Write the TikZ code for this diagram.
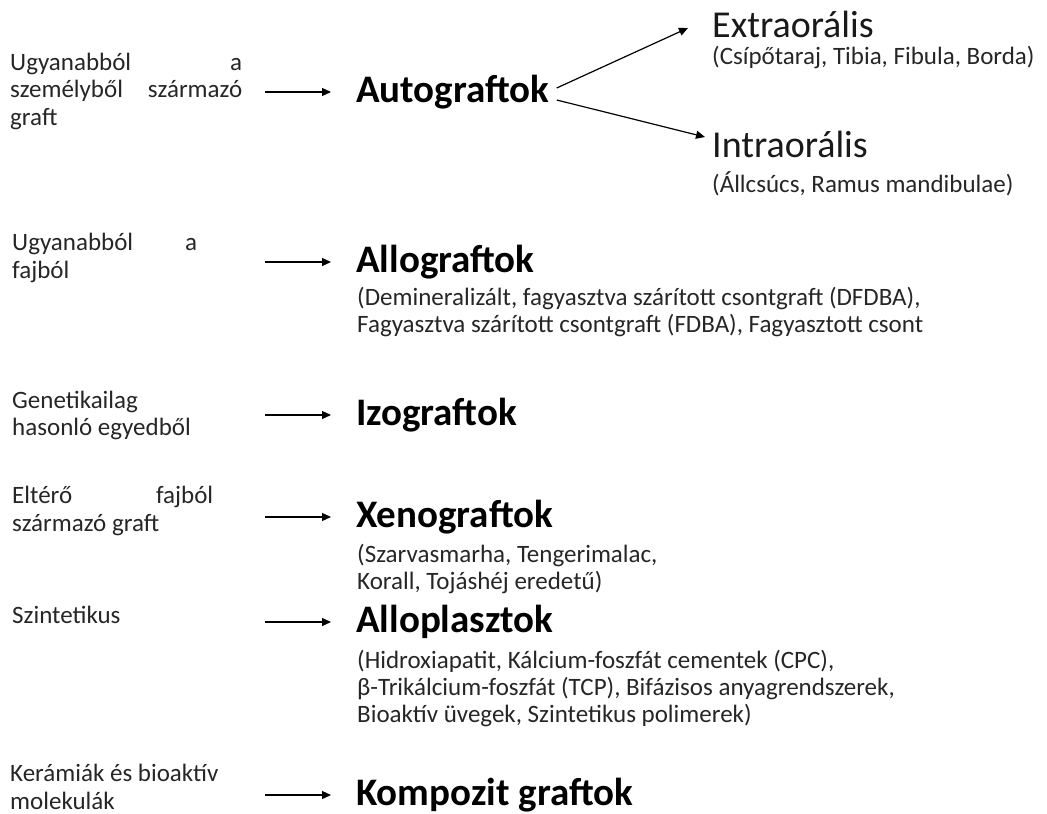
\documentclass[tikz,border=0pt]{standalone}
\usepackage{fontspec}
\setmainfont{Carlito}
\usetikzlibrary{arrows.meta,positioning}
\colorlet{txtgray}{black!85}
\newcommand{\spreadline}[3]{\makebox[#1][s]{#2\hfill #3}}

\begin{document}
\begin{tikzpicture}[x=1pt, y=-1pt,
    lab/.style={anchor=west, align=left, inner sep=0pt, text=txtgray,
                font=\fontsize{25}{27.5}\selectfont},
    head/.style={anchor=west, inner sep=0pt, font=\fontsize{39}{42}\selectfont\bfseries},
    br/.style={anchor=west, inner sep=0pt, text=black!90, font=\fontsize{38}{40}\selectfont},
    sub/.style={anchor=west, align=left, inner sep=0pt, text=txtgray,
                font=\fontsize{25}{27}\selectfont},
    arr/.style={-{Triangle[length=9pt, width=8pt]}, line width=1.2pt}
  ]
  \useasboundingbox (0,0) rectangle (1047,814);
  % Autograftok
  \node[lab] (l1) at (10,91)
    {\spreadline{232pt}{Ugyanabból}{a}\\ \spreadline{232pt}{személyből}{származó}\\ graft};
  \node[head] (h1) at (356,92) {Autograftok};
  \node[br] (ex) at (712,24) {Extraorális};
  \node[sub] (exs) at (712,57) {(Csípőtaraj, Tibia, Fibula, Borda)};
  \node[br] (in) at (712,144) {Intraorális};
  \node[sub] (ins) at (712,184) {(Állcsúcs, Ramus mandibulae)};
  % Allograftok
  \node[lab] (l2) at (12,258) {\spreadline{185pt}{Ugyanabból}{a}\\ fajból};
  \node[head] (h2) at (356,262) {Allograftok};
  \node[sub] (h2s) at (357,312)
    {(Demineralizált, fagyasztva szárított csontgraft (DFDBA),\\
     Fagyasztva szárított csontgraft (FDBA), Fagyasztott csont};
  % Izograftok
  \node[lab] (l3) at (12,415.5) {Genetikailag\\ hasonló egyedből};
  \node[head] (h3) at (356,415) {Izograftok};
  % Xenograftok
  \node[lab] (l4) at (12,511) {\spreadline{201pt}{Eltérő}{fajból}\\ származó graft};
  \node[head] (h4) at (356,517) {Xenograftok};
  \node[sub] (h4s) at (357,569)
    {(Szarvasmarha, Tengerimalac,\\ Korall, Tojáshéj eredetű)};
  % Alloplasztok
  \node[lab] (l5) at (12,615) {Szintetikus};
  \node[head] (h5) at (356,622) {Alloplasztok};
  \node[sub] (h5s) at (357,688)
    {(Hidroxiapatit, Kálcium-foszfát cementek (CPC),\\
     β-Trikálcium-foszfát (TCP), Bifázisos anyagrendszerek,\\
     Bioaktív üvegek, Szintetikus polimerek)};
  % Kompozit graftok
  \node[lab] (l6) at (10,787) {Kerámiák és bioaktív\\ molekulák};
  \node[head] (h6) at (356,795) {Kompozit graftok};
  % arrows into the headings
  \foreach \h in {h1, h2, h3, h4, h5, h6}
    \draw[arr] ([xshift=-91pt]\h.west) -- ([xshift=-25pt]\h.west);
  \draw[arr] ([xshift=7pt, yshift=4pt]h1.east) -- ([xshift=-24pt, yshift=-4pt]ex.west);
  \draw[arr] ([xshift=7pt, yshift=-8pt]h1.east) -- ([xshift=-7pt, yshift=7pt]in.west);
\end{tikzpicture}
\end{document}
